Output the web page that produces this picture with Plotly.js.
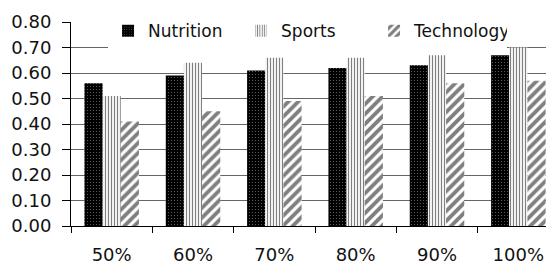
<!DOCTYPE html>
<html><head><meta charset="utf-8">
<script src="https://cdn.plot.ly/plotly-3.0.1.min.js"></script>
<style>html,body{margin:0;padding:0;overflow:hidden;background:#fff}</style>
</head><body><div id="chart" style="width:546px;height:265px"></div>
<script>
const categories = ["50%", "60%", "70%", "80%", "90%", "100%"];
const nutrition = [0.56, 0.59, 0.61, 0.62, 0.63, 0.67];
const sports = [0.51, 0.64, 0.66, 0.66, 0.67, 0.70];
const technology = [0.41, 0.45, 0.49, 0.51, 0.56, 0.57];
const yTicks = [0, 0.1, 0.2, 0.3, 0.4, 0.5, 0.6, 0.7, 0.8];
const yTickText = ["0.00","0.10","0.20","0.30","0.40","0.50","0.60","0.70","0.80"];

const font = {family: "DejaVu Sans, Arial, sans-serif", size: 17, color: "#111"};
const tickFont = {family: "DejaVu Sans, Arial, sans-serif", size: 18, color: "#111"};
const traces = [
  {type: "bar", name: "Nutrition", x: categories, y: nutrition,
   marker: {color: "#000", line: {width: 0},
     pattern: {shape: ".", bgcolor: "#000", fgcolor: "#d0d0d0", size: 3, solidity: 0.12, fillmode: "overlay"}}},
  {type: "bar", name: "Sports", x: categories, y: sports,
   marker: {color: "#fff", line: {width: 0},
     pattern: {shape: "|", bgcolor: "#fff", fgcolor: "#000", size: 3, solidity: 0.4, fillmode: "overlay"}}},
  {type: "bar", name: "Technology", x: categories, y: technology,
   marker: {color: "#fff", line: {width: 0},
     pattern: {shape: "/", bgcolor: "#fff", fgcolor: "#000", size: 7, solidity: 0.55, fillmode: "overlay"}}}
];
const layout = {
  width: 546, height: 265,
  margin: {l: 71, r: 0, t: 22, b: 39, pad: 0},
  paper_bgcolor: "#fff", plot_bgcolor: "#fff",
  font: font,
  barmode: "group", bargap: 0.33, bargroupgap: 0,
  showlegend: true,
  legend: {orientation: "h", x: 0.078, xanchor: "left", y: 0.955, yanchor: "middle",
    bgcolor: "#fff", borderwidth: 0, font: font, entrywidth: 88, traceorder: "normal"},
  xaxis: {type: "category", range: [-0.5, 5.34], showline: true, linecolor: "#000", linewidth: 1,
    ticks: "outside", tickson: "boundaries", ticklen: 6, tickcolor: "#000", ticklabelstandoff: 12,
    showgrid: false, zeroline: false, tickfont: tickFont, fixedrange: true},
  yaxis: {range: [0, 0.8], tickvals: yTicks, ticktext: yTickText, showline: true, linecolor: "#000", linewidth: 1,
    ticks: "outside", ticklen: 8, tickcolor: "#000", ticklabelstandoff: 7, showgrid: true, gridcolor: "#666", gridwidth: 1,
    zeroline: false, tickfont: tickFont, fixedrange: true}
};
Plotly.newPlot("chart", traces, layout, {displayModeBar: false, staticPlot: true});
</script></body></html>
